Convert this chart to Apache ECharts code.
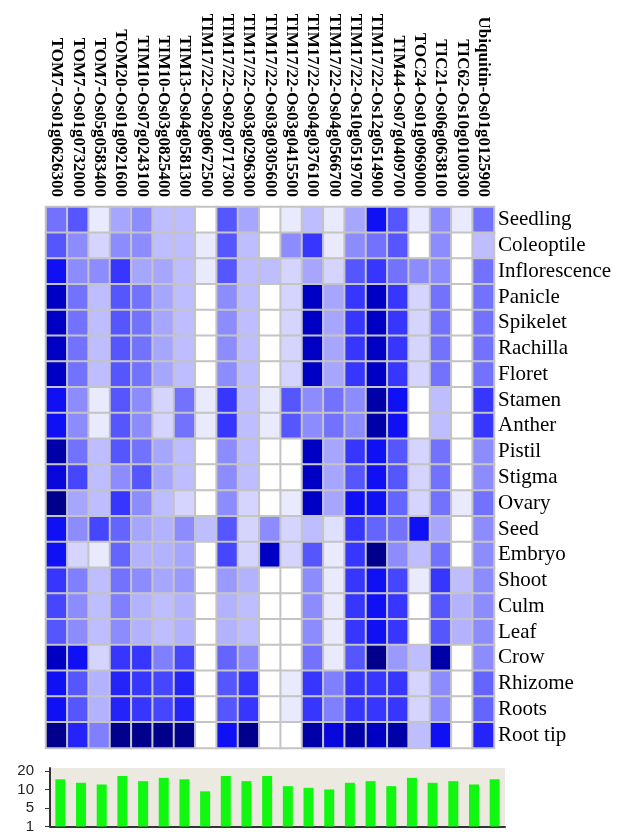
<!DOCTYPE html>
<html><head><meta charset="utf-8">
<script src="https://cdn.jsdelivr.net/npm/echarts@6/dist/echarts.min.js"></script>
<style>html,body{margin:0;padding:0;background:#fff}#c{width:617px;height:834px}</style>
</head><body><div id="c"></div>
<script>
const genes = ['TOM7-Os01g0626300','TOM7-Os01g0732000','TOM7-Os05g0583400','TOM20-Os01g0921600',
  'TIM10-Os07g0243100','TIM10-Os03g0825400','TIM13-Os04g0581300','TIM17/22-Os02g0672500',
  'TIM17/22-Os02g0717300','TIM17/22-Os03g0296300','TIM17/22-Os03g0305600','TIM17/22-Os03g0415500',
  'TIM17/22-Os04g0376100','TIM17/22-Os04g0566700','TIM17/22-Os10g0519700','TIM17/22-Os12g0514900',
  'TIM44-Os07g0409700','TOC24-Os01g0969000','TIC21-Os06g0638100','TIC62-Os10g0100300','Ubiquitin-Os01g0125900'];
const tissues = ['Seedling','Coleoptile','Inflorescence','Panicle','Spikelet','Rachilla','Floret','Stamen',
  'Anther','Pistil','Stigma','Ovary','Seed','Embryo','Shoot','Culm','Leaf','Crow','Rhizome','Roots','Root tip'];
// expression level per tissue (row) and gene (column), 0 = none .. 11 = highest
const expression = [
  [6,7,1,4,5,3,3,0,7,4,0,1,3,1,4,9,7,1,5,1,6],
  [7,5,2,5,5,3,3,1,7,3,0,5,8,1,5,6,7,0,5,0,3],
  [9,5,5,8,4,4,3,1,7,3,3,2,4,2,7,8,6,5,5,0,6],
  [10,6,3,7,6,4,3,0,5,3,0,2,10,4,8,10,8,2,6,0,6],
  [10,6,3,7,6,4,3,0,5,3,0,2,10,4,8,10,8,2,6,0,6],
  [10,6,3,7,6,4,3,0,5,3,0,2,10,4,8,10,8,2,6,0,6],
  [10,6,3,7,6,4,3,0,5,3,0,2,10,4,8,10,8,2,6,0,6],
  [9,5,1,7,5,2,6,1,8,3,1,7,5,6,5,10.5,9,0,3,0,8],
  [9,5,1,7,5,2,6,1,8,3,1,7,5,6,5,10.5,9,0,3,0,8],
  [10.5,6,3,7,6,4,3,0,5,3,0,0,10,4,8,9,7,2,6,0,5],
  [9.5,7.5,3,5,7,4,3,0,5,3,0,0,10,4,7,9,7,2,6,0,5],
  [11,4,3,8,5,3,2,0,5,2,0,1,10,4,9,9,6.5,2,6,1,6],
  [9,5,7.5,6.5,4,3.5,5,3,7,2,5,2,3,1.5,8,6.5,6,9,4,0,5],
  [9,2,1,6.5,3.5,3.5,4,0,7.5,2,10,2,7,1,8,11,5,3,6,0,5],
  [8,5.5,3,6,5,4,4.5,0,4.5,3.5,0,0,5,1,8,9,7.5,1,8,3,5],
  [7.5,5,3,5.5,3.5,3,3.5,0,3.5,3,0,0,5,1,8,9,8,0,7,3.5,5],
  [7,5,3,5,3.5,3,3.5,0,3.5,3,0,0,5,1,8,9,8,0,7,3.5,5],
  [10,9,2,8,8,5.5,7.5,0,6.5,5,0,0,6,1,7,11,4.5,3,10.5,0,5],
  [9,7,3.5,8.5,8,7.5,8.5,0,7,8,0,1,8,5.5,8,8,8,2,5,0,6.5],
  [9,7,3.5,8.5,8,7.5,8.5,0,7,8,0,1,8,5.5,8,8,8,2,5,0,6.5],
  [11,8.5,5.5,11,11,11,11,0,9,11,0,0,10.5,9.5,10.5,10,10.5,3,9,0,8.5]
];
const barCategories = ['1','2','3','4','5','6','7','8','9','10','11','12','13','14','15','16','17','18','19','20','21','22'];
const barValues = [15.5,13.6,12.7,17.3,14.5,16.3,15.5,9.5,17.3,14.5,17.3,11.8,10.9,10.0,13.6,14.5,11.8,16.3,13.6,14.5,12.7,15.5];
const barTicks = [1,5,10,20];
const colorStops = ['#ffffff','#eaeaff','#d4d4ff','#bdbdff','#a6a6ff','#8c8cff','#7272ff','#5656ff','#3636ff','#1010f5','#0000c4','#00008c'];

// axis with equally spaced ticks 1,5,10,20 (piecewise linear between ticks)
function toLevel(v){
  for(let i=0;i<barTicks.length-1;i++){
    if(v<=barTicks[i+1]) return i+(v-barTicks[i])/(barTicks[i+1]-barTicks[i]);
  }
  return barTicks.length-1;
}

const heatData = [];
expression.forEach((row,r)=>row.forEach((v,c)=>heatData.push([c,r,v])));

const chart = echarts.init(document.getElementById('c'), null, {renderer:'canvas'});
chart.setOption({
  animation:false,
  backgroundColor:'#ffffff',
  grid:[
    {left:46, top:207, width:448, height:541},
    {left:50, top:768, width:455, height:59, show:true, backgroundColor:'#ece9e1', borderWidth:0}
  ],
  xAxis:[
    {type:'category', gridIndex:0, data:genes, position:'top',
     axisLine:{show:false}, axisTick:{show:false}, splitLine:{show:false},
     axisLabel:{rotate:90, interval:0, margin:10, fontFamily:'Liberation Serif', fontWeight:'bold', fontSize:17, color:'#000'}},
    {type:'category', gridIndex:1, data:barCategories,
     axisLine:{show:true, lineStyle:{color:'#333', width:2}}, axisTick:{show:false}, axisLabel:{show:false}}
  ],
  yAxis:[
    {type:'category', gridIndex:0, data:tissues, inverse:true, position:'right',
     axisLine:{show:false}, axisTick:{show:false}, splitLine:{show:false},
     axisLabel:{interval:0, margin:4, fontFamily:'Liberation Serif', fontSize:21, color:'#000'}},
    {type:'value', gridIndex:1, min:0, max:3.16, splitLine:{show:false},
     axisLine:{show:true, lineStyle:{color:'#333', width:2}},
     axisTick:{show:true, length:5, customValues:[0,1,2,3], lineStyle:{color:'#333'}},
     axisLabel:{customValues:[0,1,2,3], formatter:(v)=>String(barTicks[Math.round(v)]),
       fontFamily:'Liberation Sans', fontSize:15, color:'#222', margin:16}}
  ],
  visualMap:{type:'continuous', show:false, seriesIndex:0, dimension:2, min:0, max:11, inRange:{color:colorStops}},
  series:[
    {type:'heatmap', xAxisIndex:0, yAxisIndex:0, data:heatData,
     itemStyle:{borderColor:'#c4c4c4', borderWidth:2}, emphasis:{disabled:true}},
    {type:'bar', xAxisIndex:1, yAxisIndex:1, barWidth:10,
     data:barValues.map(v=>toLevel(v)), itemStyle:{color:'#10f810'}}
  ]
});
</script></body></html>
